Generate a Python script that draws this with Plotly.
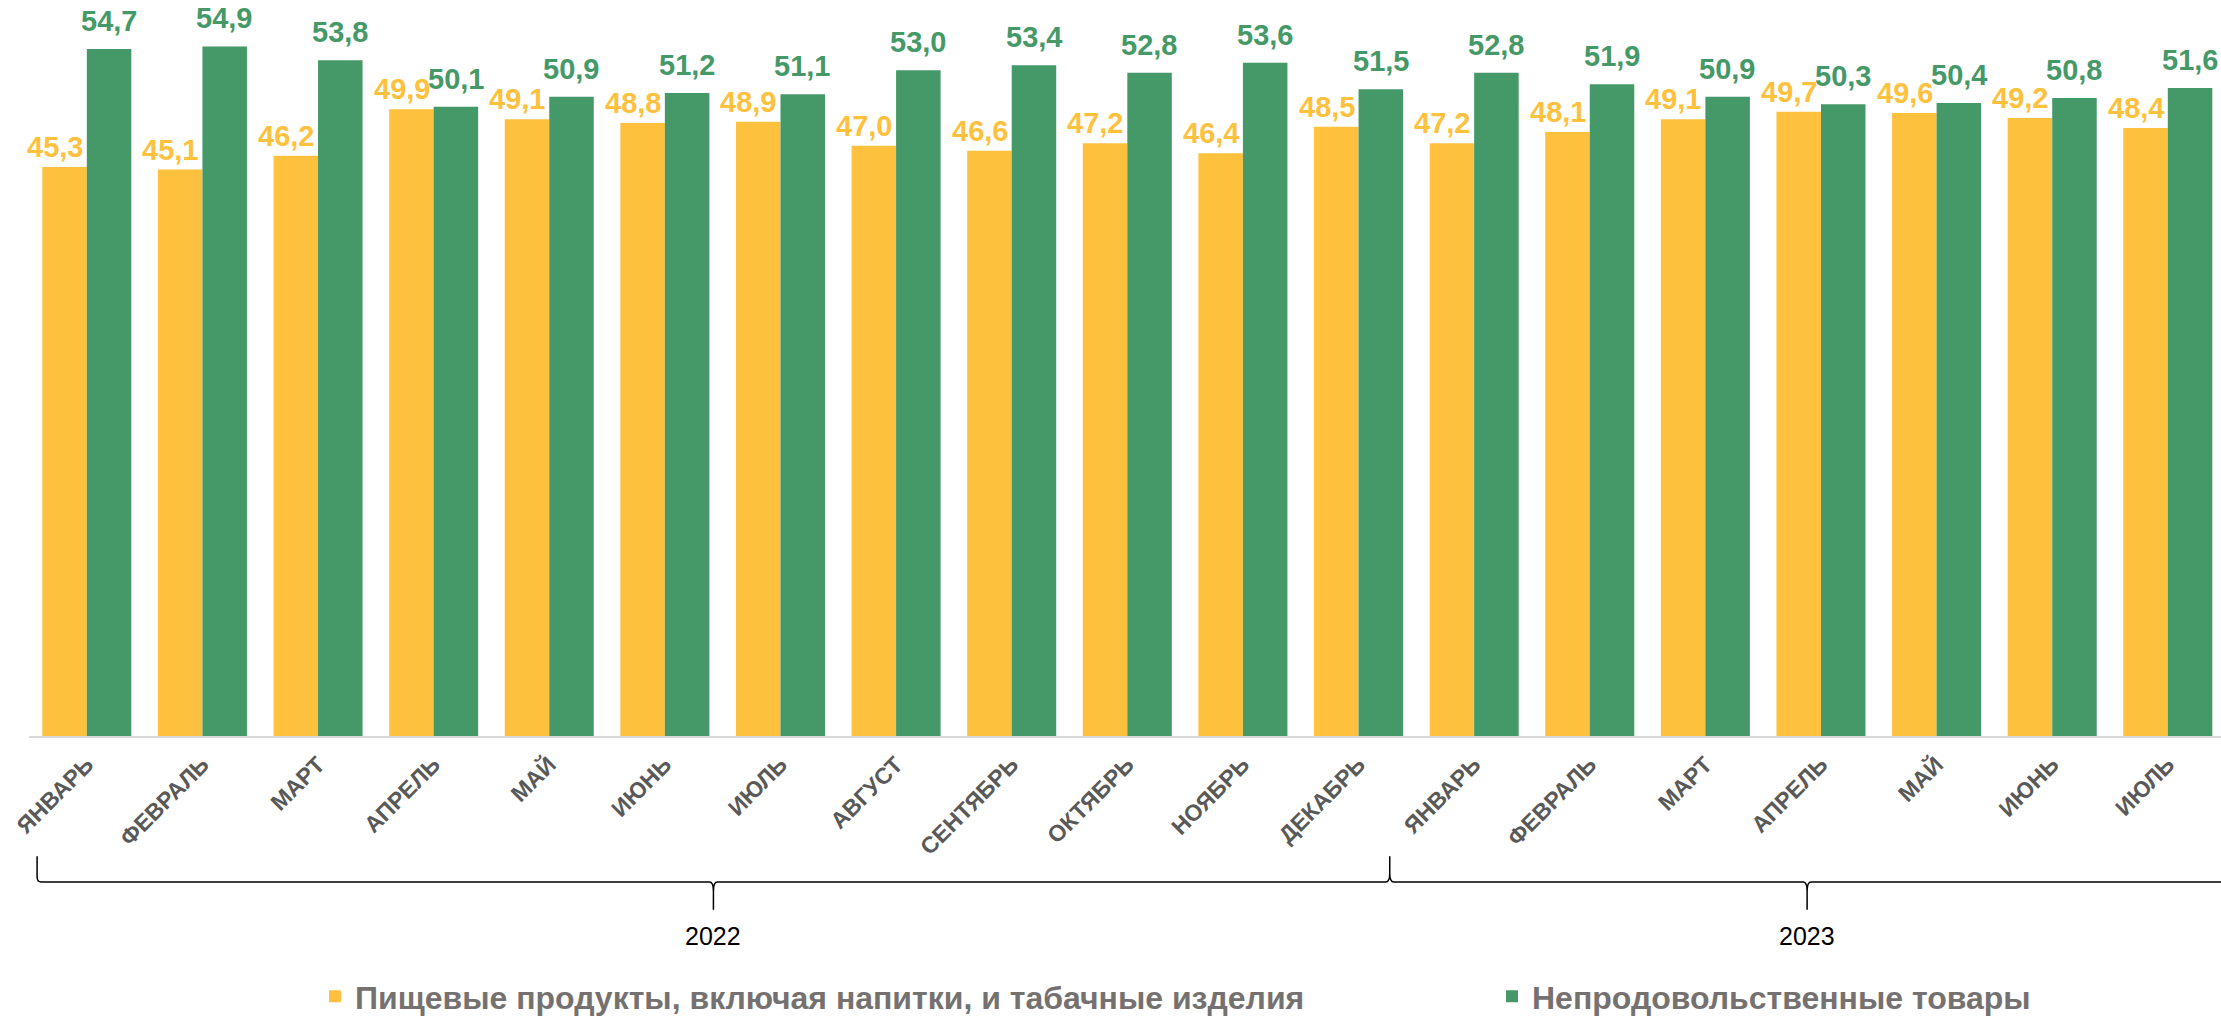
import plotly.graph_objects as go

# ---------------- data ----------------
months = ["ЯНВАРЬ", "ФЕВРАЛЬ", "МАРТ", "АПРЕЛЬ", "МАЙ", "ИЮНЬ", "ИЮЛЬ", "АВГУСТ",
          "СЕНТЯБРЬ", "ОКТЯБРЬ", "НОЯБРЬ", "ДЕКАБРЬ",
          "ЯНВАРЬ", "ФЕВРАЛЬ", "МАРТ", "АПРЕЛЬ", "МАЙ", "ИЮНЬ", "ИЮЛЬ"]
years = ["2022", "2023"]
year_counts = [12, 7]
food = [45.3, 45.1, 46.2, 49.9, 49.1, 48.8, 48.9, 47.0, 46.6, 47.2, 46.4, 48.5,
        47.2, 48.1, 49.1, 49.7, 49.6, 49.2, 48.4]
nonfood = [54.7, 54.9, 53.8, 50.1, 50.9, 51.2, 51.1, 53.0, 53.4, 52.8, 53.6, 51.5,
           52.8, 51.9, 50.9, 50.3, 50.4, 50.8, 51.6]
series_names = ["Пищевые продукты, включая напитки, и табачные изделия",
                "Непродовольственные товары"]

# ---------------- layout constants ----------------
W, H = 2221, 1024
ML, MR, MT, MB = 29, 0, 0, 278
PLOT_W = W - ML - MR
PLOT_H = H - MT - MB
XMIN, XMAX = -0.5, 18.46
YMAX = 58.6
PX = (XMAX - XMIN) / PLOT_W          # data units per pixel (x)

FONT = "Liberation Sans, Arial, sans-serif"
YEL = "#FEC13D"
GRN = "#459968"
LEG_TXT = "#767171"
TICK_TXT = "#595959"

def fmt(v):
    return f"{v:.1f}".replace(".", ",")

def py(p):
    """pixel row -> paper y"""
    return 1 - (p - MT) / PLOT_H

def px_paper(p):
    return (p - ML) / PLOT_W

idx = list(range(len(months)))

fig = go.Figure()
fig.add_trace(go.Bar(x=idx, y=food, name=series_names[0], marker_color=YEL,
                     marker_line_width=0, legend="legend"))
fig.add_trace(go.Bar(x=idx, y=nonfood, name=series_names[1], marker_color=GRN,
                     marker_line_width=0, legend="legend2"))

annotations = []
for i, v in enumerate(food):
    annotations.append(dict(x=i, y=v, xref="x", yref="y", text=fmt(v), showarrow=False,
                            xanchor="center", yanchor="bottom", xshift=-32, yshift=2,
                            font=dict(family=FONT, size=29, color=YEL, weight="bold")))
for i, v in enumerate(nonfood):
    annotations.append(dict(x=i, y=v, xref="x", yref="y", text=fmt(v), showarrow=False,
                            xanchor="center", yanchor="bottom", xshift=22, yshift=10,
                            font=dict(family=FONT, size=29, color=GRN, weight="bold")))

# ---------------- year brackets ----------------
bounds = [-0.43, 11.27, 18.49]
Y_TOP, Y_BAR, Y_DIP = 868, 894, 922
c = 4 * PX
yt, yb, yd = py(Y_TOP), py(Y_BAR), py(Y_DIP)
ybk = py(Y_BAR - 9)
ydk = py(Y_BAR + 9)
a0 = bounds[0]
path = f"M {a0},{yt} L {a0},{py(Y_BAR-5)} Q {a0},{yb} {a0 + c},{yb} "
for k in range(len(years)):
    a, b = bounds[k], bounds[k + 1]
    m = (a + b) / 2
    path += f"L {m - c},{yb} Q {m},{yb} {m},{ydk} L {m},{yd} M {m},{ydk} Q {m},{yb} {m + c},{yb} "
    if k < len(years) - 1:
        path += (f"L {b - c},{yb} Q {b},{yb} {b},{ybk} L {b},{yt} "
                 f"M {b},{ybk} Q {b},{yb} {b + c},{yb} ")
    else:
        path += f"L {b + 0.2},{yb}"
    annotations.append(dict(x=m, y=py(949), xref="x", yref="paper", text=years[k],
                            showarrow=False, xanchor="center", yanchor="middle",
                            font=dict(family=FONT, size=25, color="#000000")))

shapes = [dict(type="path", xref="x", yref="paper", path=path,
               line=dict(color="#000000", width=1.5))]

leg_common = dict(orientation="h", xanchor="left", yanchor="middle", y=py(1010),
                  bgcolor="rgba(0,0,0,0)", borderwidth=0,
                  font=dict(family=FONT, size=32, color=LEG_TXT, weight="bold"))

fig.update_layout(
    width=W, height=H,
    margin=dict(l=ML, r=MR, t=MT, b=MB, pad=0),
    paper_bgcolor="white", plot_bgcolor="white",
    barmode="group", bargap=0.23, bargroupgap=0,
    font=dict(family=FONT),
    xaxis=dict(range=[XMIN, XMAX], tickmode="array", tickvals=idx, ticktext=months,
               tickangle=-45, ticklabelstandoff=4,
               tickfont=dict(family=FONT, size=23, color=TICK_TXT, weight="bold"),
               showline=True, linecolor="#D9D9D9", linewidth=2, ticks="",
               showgrid=False, zeroline=False, fixedrange=True),
    yaxis=dict(range=[0, YMAX], visible=False, fixedrange=True),
    showlegend=True,
    legend=dict(x=px_paper(315), **leg_common),
    legend2=dict(x=px_paper(1492), **leg_common),
    annotations=annotations,
    shapes=shapes,
)

fig.write_html("out.html",
               config={"displayModeBar": False},
               post_script="document.body.style.margin='0px';"
                           "document.body.style.overflow='hidden';")
